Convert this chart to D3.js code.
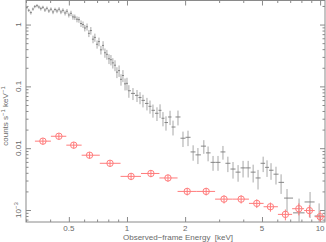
<!DOCTYPE html>
<html>
<head>
<meta charset="utf-8">
<script src="https://cdn.jsdelivr.net/npm/d3@7"></script>
<style>
  body { margin: 0; background: #fff; }
  svg { display: block; font-family: "Liberation Sans", Arial, sans-serif; }
</style>
</head>
<body>
<div id="chart"></div>
<script>
// grey spectrum (source), bin centres in keV and counts s^-1 keV^-1
var greyE = [0.303,0.310,0.318,0.326,0.333,0.342,0.350,0.358,0.367,0.376,
             0.385,0.394,0.404,0.414,0.424,0.434,0.445,0.455,0.466,0.478,
             0.489,0.500,0.513,0.525,0.537,0.551,0.564,0.578,0.592,0.605,
             0.621,0.635,0.650,0.667,0.682,0.700,0.716,0.733,0.752,0.769,
             0.787,0.807,0.826,0.845,0.867,0.887,0.910,0.931,0.953,0.977,
             1.000,1.023,
             1.074,1.127,1.168,1.210,1.269,1.316,1.363,1.430,1.483,1.536,
             1.592,1.671,1.731,1.837,1.950,2.07,2.20,2.33,2.50,2.63,
             2.79,2.96,3.14,3.33,3.54,3.76,3.99,4.24,4.50,4.77,
             5.07,5.31,5.57,5.91,6.28,6.74,7.78,8.87,9.88]
var greyV = [1.88,1.70,1.56,1.78,1.95,2.02,1.92,1.81,1.90,1.72,
             1.83,1.66,1.77,1.60,1.75,1.66,1.77,1.60,1.70,1.54,
             1.64,1.43,1.52,1.33,1.32,1.22,1.20,1.04,1.00,0.88,
             0.92,0.72,0.80,0.58,0.62,0.48,0.53,0.39,0.46,0.35,
             0.33,0.28,0.27,0.24,0.22,0.17,0.18,0.13,0.15,0.11,
             0.112,0.085,
             0.077,0.0716,0.066,0.0594,0.053,0.0476,0.041,0.0367,0.041,0.0305,
             0.026,0.032,0.022,0.032,0.0145,0.015,0.0087,0.0078,0.0108,0.0084,
             0.0059,0.0059,0.0087,0.0057,0.0046,0.0041,0.0048,0.0048,0.0041,0.0033,
             0.0057,0.0049,0.0044,0.0038,0.0028,0.00156,0.00090,0.00135,0.00080]
var greyErr = [0.06,0.06,0.07,0.06,0.06,0.06,0.06,0.07,0.06,0.07,
               0.07,0.07,0.07,0.08,0.07,0.08,0.08,0.08,0.08,0.09,
               0.09,0.09,0.10,0.10,0.10,0.11,0.11,0.12,0.12,0.12,
               0.13,0.13,0.14,0.14,0.15,0.15,0.16,0.16,0.17,0.17,
               0.18,0.18,0.19,0.19,0.20,0.20,0.21,0.21,0.22,0.22,
               0.23,0.23,
               0.22,0.22,0.22,0.23,0.23,0.24,0.24,0.25,0.25,0.26,
               0.26,0.26,0.27,0.27,0.28,0.28,0.28,0.29,0.25,0.27,
               0.27,0.27,0.25,0.28,0.30,0.30,0.30,0.30,0.32,0.35,
               0.28,0.30,0.30,0.32,0.35,0.40,0.70,0.45,0.60]

// red spectrum (background / second component)
var redE = [0.367,0.444,0.53,0.64,0.817,1.05,1.33,1.63,2.05,2.57,3.18,3.90,4.70,5.53,6.61,7.76,8.80,10.0]
var redV = [0.0130,0.0156,0.0112,0.0077,0.0057,0.0035,0.0039,0.0033,0.0020,0.0020,
            0.0015,0.0015,0.00128,0.00113,0.00085,0.00105,0.00098,0.00078]
var redErr = [0.12,0.12,0.12,0.12,0.12,0.13,0.13,0.13,0.14,0.14,0.15,0.15,0.16,0.17,0.20,0.22,0.22,0.25]

var xMajor = [0.5, 1, 2, 5, 10]
var xMinor = [0.3,0.4,0.6,0.7,0.8,0.9,3,4,6,7,8,9]
var yMajor = [1, 0.1, 0.01, 0.001]
var yLabels = ["1", "0.1", "0.01", "10"]
var yMinor = []
;[0.001, 0.01, 0.1, 1].forEach(function (d) {
  [2,3,4,5,6,7,8,9].forEach(function (m) { if (d * m < 2.5) yMinor.push(d * m) })
})
yMinor.push(0.0007, 0.0008, 0.0009)

var W = 326, H = 242
var L = 26, R = 325, T = 0.5, B = 222

var frameCol = "#8a8a8a", textCol = "#6a6a6a", greyCol = "#7a7a7a", greyBar = "#a8a8a8", redCol = "#ff7c7c"

var x = d3.scaleLog().domain([0.3, 10.6]).range([L, R])
var y = d3.scaleLog().domain([6.4e-4, 2.45]).range([B, T])

var svg = d3.select("#chart").append("svg").attr("width", W).attr("height", H)

svg.append("clipPath").attr("id", "clip").append("rect")
  .attr("x", L).attr("y", T).attr("width", R - L).attr("height", B - T)

// axes: ticks pointing inward on all four sides
function styleAxis(g) {
  g.select(".domain").remove()
  g.selectAll("line").attr("stroke", frameCol)
  g.selectAll("text").remove()
}
svg.append("g").attr("transform", "translate(0," + B + ")")
  .call(d3.axisBottom(x).tickValues(xMajor).tickSize(-5)).call(styleAxis)
svg.append("g").attr("transform", "translate(0," + B + ")")
  .call(d3.axisBottom(x).tickValues(xMinor).tickSize(-2.5)).call(styleAxis)
svg.append("g").attr("transform", "translate(0," + T + ")")
  .call(d3.axisTop(x).tickValues(xMajor).tickSize(-5)).call(styleAxis)
svg.append("g").attr("transform", "translate(0," + T + ")")
  .call(d3.axisTop(x).tickValues(xMinor).tickSize(-2.5)).call(styleAxis)
svg.append("g").attr("transform", "translate(" + L + ",0)")
  .call(d3.axisLeft(y).tickValues(yMajor).tickSize(-5)).call(styleAxis)
svg.append("g").attr("transform", "translate(" + L + ",0)")
  .call(d3.axisLeft(y).tickValues(yMinor).tickSize(-2.5)).call(styleAxis)
svg.append("g").attr("transform", "translate(" + R + ",0)")
  .call(d3.axisRight(y).tickValues(yMajor).tickSize(-5)).call(styleAxis)
svg.append("g").attr("transform", "translate(" + R + ",0)")
  .call(d3.axisRight(y).tickValues(yMinor).tickSize(-2.5)).call(styleAxis)

svg.append("rect").attr("x", L).attr("y", T).attr("width", R - L).attr("height", B - T)
  .attr("fill", "none").attr("stroke", frameCol).attr("stroke-width", 1)

// tick labels
svg.append("g").selectAll("text").data(xMajor).enter().append("text")
  .attr("x", function (d) { return x(d) }).attr("y", 231)
  .attr("text-anchor", "middle").attr("font-size", 8).attr("fill", textCol)
  .text(function (d) { return d })

var yl = svg.append("g").selectAll("text").data(yMajor).enter().append("text")
  .attr("transform", function (d) { return "translate(21," + y(d) + ") rotate(-90)" })
  .attr("text-anchor", "middle").attr("font-size", 8).attr("fill", textCol)
  .text(function (d, i) { return yLabels[i] })
yl.filter(function (d) { return d === 0.001 }).append("tspan")
  .attr("dy", -3).attr("font-size", 6).text("\u22123")

// axis titles
svg.append("text").attr("x", 123).attr("y", 240).attr("font-size", 8).attr("fill", textCol)
  .attr("xml:space", "preserve")
  .text("Observed\u2212frame Energy  [keV]")

var yt = svg.append("text").attr("transform", "translate(8,116) rotate(-90)")
  .attr("text-anchor", "middle").attr("font-size", 8).attr("fill", textCol)
yt.append("tspan").text("counts s")
yt.append("tspan").attr("dy", -3).attr("font-size", 6).text("\u22121")
yt.append("tspan").attr("dy", 3).text(" keV")
yt.append("tspan").attr("dy", -3).attr("font-size", 6).text("\u22121")

// bin edges from neighbouring centres (geometric midpoint)
function edges(E) {
  return E.map(function (e, i) {
    var lo = i > 0 ? Math.sqrt(E[i - 1] * e) : e * e / Math.sqrt(e * E[i + 1])
    var hi = i < E.length - 1 ? Math.sqrt(E[i + 1] * e) : e * e / Math.sqrt(e * E[i - 1])
    return [lo, hi]
  })
}

var plot = svg.append("g").attr("clip-path", "url(#clip)")

var greyEdges = edges(greyE)
var greyData = greyE.map(function (e, i) {
  return { e: e, v: greyV[i], err: greyErr[i], lo: greyEdges[i][0], hi: greyEdges[i][1] }
})
var gg = plot.append("g").attr("stroke-width", 1)
gg.selectAll(".v").data(greyData).enter().append("line")
  .attr("stroke", greyBar)
  .attr("x1", function (d) { return x(d.e) }).attr("x2", function (d) { return x(d.e) })
  .attr("y1", function (d) { return y(d.v * (1 - d.err)) })
  .attr("y2", function (d) { return y(d.v * (1 + d.err)) })
gg.selectAll(".h").data(greyData).enter().append("line")
  .attr("stroke", greyCol).attr("stroke-width", 0.9)
  .attr("x1", function (d) { return x(d.lo) }).attr("x2", function (d) { return x(d.hi) })
  .attr("y1", function (d) { return y(d.v) }).attr("y2", function (d) { return y(d.v) })

var redEdges = edges(redE)
var redData = redE.map(function (e, i) {
  return { e: e, v: redV[i], err: redErr[i], lo: redEdges[i][0], hi: redEdges[i][1] }
})
var rg = plot.append("g").attr("stroke", redCol).attr("stroke-width", 1).attr("fill", "none")
rg.selectAll(".h").data(redData).enter().append("line")
  .attr("x1", function (d) { return x(d.lo) }).attr("x2", function (d) { return x(d.hi) })
  .attr("y1", function (d) { return y(d.v) }).attr("y2", function (d) { return y(d.v) })
rg.selectAll(".v").data(redData).enter().append("line")
  .attr("x1", function (d) { return x(d.e) }).attr("x2", function (d) { return x(d.e) })
  .attr("y1", function (d) { return y(d.v * (1 - d.err)) })
  .attr("y2", function (d) { return y(d.v * (1 + d.err)) })
rg.selectAll("circle").data(redData).enter().append("circle")
  .attr("cx", function (d) { return x(d.e) }).attr("cy", function (d) { return y(d.v) })
  .attr("r", 3.2)
</script>
</body>
</html>
